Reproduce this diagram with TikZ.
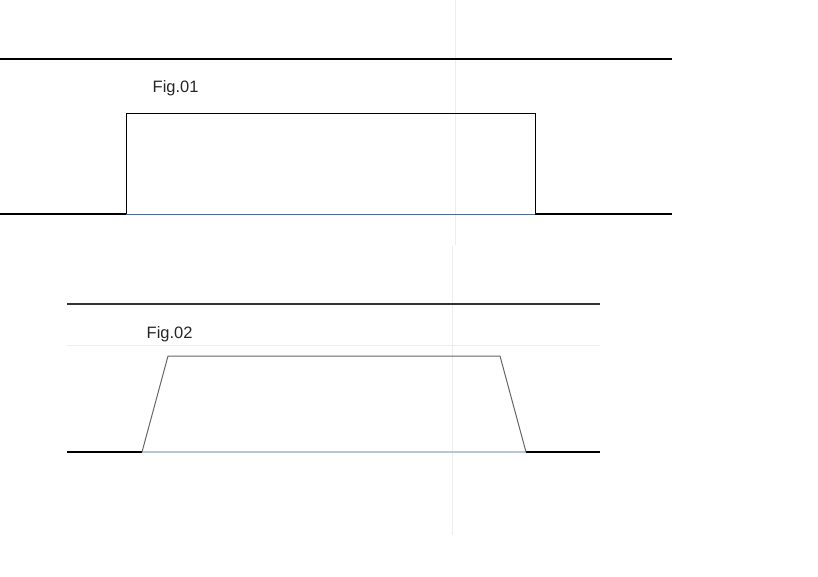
\documentclass[tikz,border=0pt]{standalone}
\usepackage{fontspec}
\setmainfont{Liberation Sans}
\usetikzlibrary{positioning}

\begin{document}
\begin{tikzpicture}[x=1pt, y=-1pt, line cap=butt,
    rail/.style={black, line width=2pt},
    faint/.style={draw=black!7, line width=1pt},
    caption/.style={anchor=west, inner sep=0pt, text=black!85, font=\fontsize{16.5}{19}\selectfont}]
    \useasboundingbox (0,0) rectangle (818,576);

    % Guides
    \draw [faint] (455,0) -- (455,245);
    \draw [faint] (452,246) -- (452,535);
    \draw [faint] (67,345) -- (600,345);

    % Fig.01 points {a1, a2, ...}
    \coordinate (t1) at (0,59);
    \coordinate (t2) at (672,59);
    \coordinate (a0) at (0,214);
    \coordinate (a1) at (126,214);
    \coordinate (a2) at (126,113);
    \coordinate (a3) at (535,113);
    \coordinate (a4) at (535,214);
    \coordinate (a5) at (672,214);
    \node [caption] (fig1) at (152.5,88.5) {Fig.01};

    % Fig.01 paths
    \draw [rail] (t1) -- (t2);
    \draw [rail] (a0) -- (a1);
    \draw [rail] (a4) -- (a5);
    \draw [line width=1pt, color={rgb,255:red,74;green,106;blue,154}] (a1) -- (a4);
    \draw [line width=1pt, line join=miter] (a1) -- (a2) -- (a3) -- (a4);

    % Fig.02 points {b1, b2, ...}
    \coordinate (u1) at (67,304);
    \coordinate (u2) at (600,304);
    \coordinate (b0) at (67,452);
    \coordinate (b1) at (142,452);
    \coordinate (b2) at (168,356);
    \coordinate (b3) at (500,356);
    \coordinate (b4) at (526,452);
    \coordinate (b5) at (600,452);
    \node [caption] (fig2) at (146.5,334.5) {Fig.02};

    % Fig.02 paths
    \draw [line width=1.5pt, black!80] (u1) -- (u2);
    \draw [line width=1.5pt] (b0) -- (b1);
    \draw [line width=1.5pt] (b4) -- (b5);
    \draw [line width=1.2pt, color={rgb,255:red,184;green,196;blue,216}] (b1) -- (b4);
    \draw [line width=1pt, black!60, line join=miter] (b1) -- (b2) -- (b3) -- (b4);
\end{tikzpicture}
\end{document}
